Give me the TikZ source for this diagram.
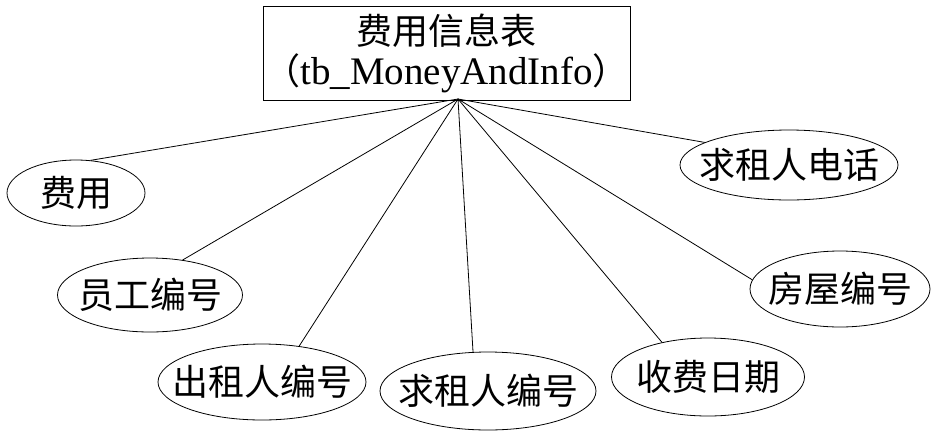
\documentclass[tikz,border=0pt]{standalone}
\usepackage{fontspec}
\setmainfont{Liberation Serif}
\newfontfamily\cjk{Noto Sans CJK SC}
\usetikzlibrary{shapes.geometric}

\tikzset{
  attr/.style={draw, ellipse, inner sep=0pt, line width=0.8pt},
  attrtext/.style={font=\cjk\fontsize{36}{38}\selectfont},
  link/.style={line width=0.8pt}
}

\begin{document}
\begin{tikzpicture}[x=1pt,y=-1pt]
\useasboundingbox (0,0) rectangle (943,440);
% entity
\node[draw, line width=0.8pt, minimum width=367pt, minimum height=94pt, inner sep=0pt,
      align=center, font=\fontsize{39}{40}\selectfont] (tb) at (446.5,53)
  {{\cjk\fontsize{36}{40}\selectfont 费用信息表}\\{\cjk\fontsize{36}{40}\selectfont （}tb\_MoneyAndInfo{\cjk\fontsize{36}{40}\selectfont ）}};
\coordinate (hub) at (458,99);
% attributes
\node[attr, minimum width=138pt, minimum height=66pt, label={[attrtext]center:费用}] (fy) at (76,193) {};
\node[attr, minimum width=185pt, minimum height=74pt, label={[attrtext]center:员工编号}] (ygbh) at (150,295) {};
\node[attr, minimum width=208pt, minimum height=76pt, label={[attrtext]center:出租人编号}] (czrbh) at (262,382) {};
\node[attr, minimum width=216pt, minimum height=78pt, label={[attrtext]center:求租人编号}] (qzrbh) at (488,391) {};
\node[attr, minimum width=193pt, minimum height=78pt, label={[attrtext]center:收费日期}] (sfrq) at (708,377) {};
\node[attr, minimum width=180pt, minimum height=76pt, label={[attrtext]center:房屋编号}] (fwbh) at (840,289) {};
\node[attr, minimum width=218pt, minimum height=70pt, label={[attrtext]center:求租人电话}] (qzrdh) at (789,165) {};
% links
\draw[link] (hub) -- (fy.66);
\draw[link] (hub) -- (ygbh.47);
\draw[link] (hub) -- (czrbh.44);
\draw[link] (hub) -- (qzrbh.111);
\draw[link] (hub) -- (sfrq.143);
\draw[link] (hub) -- (fwbh.174);
\draw[link] (hub) -- (qzrdh.165);
\end{tikzpicture}
\end{document}
